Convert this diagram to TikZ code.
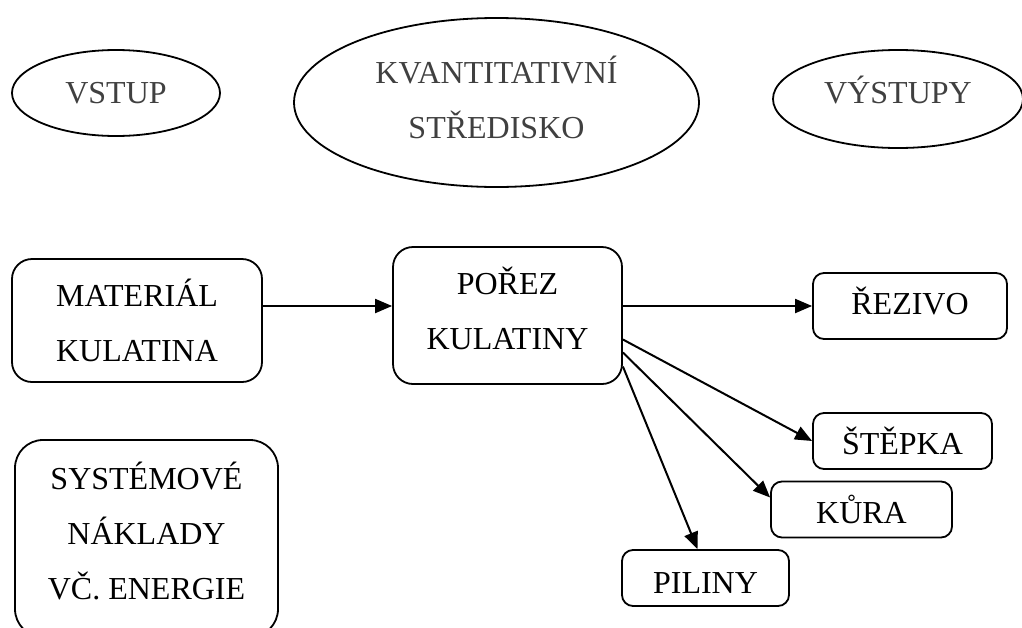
\documentclass[tikz,border=0pt]{standalone}
\usepackage{fontspec}
\setmainfont{Liberation Serif}
\usetikzlibrary{shapes.geometric, arrows.meta, positioning}

\begin{document}
\begin{tikzpicture}[x=1pt, y=-1pt, >={Triangle[length=17pt, width=14pt]}, font=\fontsize{32}{55}\selectfont]
    \tikzset{
		oval/.style={draw, ellipse, line width=1.8pt, inner sep=0pt, align=center, text=black!75},
		block/.style={draw, rectangle, line width=1.8pt, rounded corners=20pt, inner sep=0pt, align=center},
		outbox/.style={block, rounded corners=11pt, minimum height=56pt},
		flow/.style={->, line width=2pt}
	}
	\useasboundingbox (0,0) rectangle (1022,627);

	% --- Hlavička ---
	\node [oval, minimum width=208pt, minimum height=86pt] (input) at (116,93) {VSTUP};
	\node [oval, minimum width=405pt, minimum height=169pt, text depth=10pt] (centre) at (496.5,102.5) {KVANTITATIVNÍ\\ STŘEDISKO};
	\node [oval, minimum width=250pt, minimum height=98pt, text depth=18pt] (outputs) at (898,99) {VÝSTUPY};

	% --- Vstupy a středisko ---
	\node [block, minimum width=250pt, minimum height=123pt] (material) at (137,320.5) {MATERIÁL\\ KULATINA};
	\node [block, minimum width=229pt, minimum height=137pt, text depth=14pt] (cut) at (507.5,315.5) {POŘEZ\\ KULATINY};
	\node [block, rounded corners=28pt, minimum width=263pt, minimum height=197pt, text depth=16pt] (costs) at (146.5,538.5) {SYSTÉMOVÉ\\ NÁKLADY\\ VČ. ENERGIE};

	% --- Výstupy ---
	\node [outbox, minimum width=194pt, minimum height=66pt, text depth=10pt] (lumber) at (910,306) {ŘEZIVO};
	\node [outbox, minimum width=179pt] (chips) at (902.5,441) {ŠTĚPKA};
	\node [outbox, minimum width=181pt] (bark) at (861.5,509.5) {KŮRA};
	\node [outbox, minimum width=167pt, text height=30pt] (sawdust) at (705.5,578) {PILINY};

	% --- Spojení ---
	\draw [flow] (material.east |- lumber.west) -- (cut.west |- lumber.west);
	\draw [flow] (cut.east |- lumber.west) -- (lumber.west);
	\draw [flow] ([yshift=-24pt]cut.east) -- (chips.west);
	\draw [flow] ([yshift=-37pt]cut.east) -- ([yshift=12pt]bark.west);
	\draw [flow] ([yshift=-51pt]cut.east) -- ([xshift=-8pt]sawdust.north);
\end{tikzpicture}
\end{document}
